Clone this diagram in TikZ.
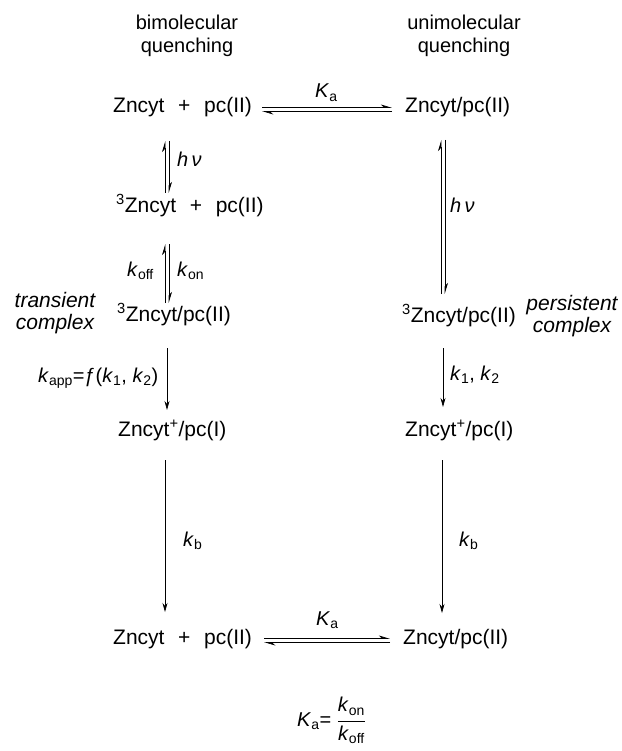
\documentclass[tikz,border=0pt]{standalone}
\usepackage{fontspec}
\setmainfont{Liberation Sans}
\usetikzlibrary{arrows.meta,calc}

\begin{document}
\begin{tikzpicture}[x=1pt, y=-1pt,
    species/.style={anchor=base west, inner sep=0pt, font=\fontsize{21}{24}\selectfont},
    lbl/.style={anchor=base west, inner sep=0pt, font=\fontsize{20}{24}\selectfont},
    head/.style={align=center, inner sep=0pt, font=\fontsize{20}{23}\selectfont},
    note/.style={align=center, inner sep=0pt, font=\fontsize{21}{22}\selectfont\itshape},
    arrow/.style={-{Stealth[length=9pt,width=5pt]}, line width=0.7pt},
    harp/.style={-{Stealth[harpoon,length=10pt,width=6pt]}, line width=0.7pt}
  ]
  \useasboundingbox (0,0) rectangle (621,751);
  % Columns
  \coordinate (colL) at (167,0);
  \coordinate (colR) at (443,0);
  % Headings
  \node[head] (headL) at (187,36) {bimolecular\\quenching};
  \node[head] (headR) at (464,36) {unimolecular\\quenching};
  % Species, left
  \node[species] (r1L) at (113,113) {Zncyt\hspace{0.65em}+\hspace{0.65em}pc(II)};
  \node[species] (r2L) at (116,212) {\textsuperscript{3}Zncyt\hspace{0.65em}+\hspace{0.65em}pc(II)};
  \node[species] (r3L) at (117,321) {\textsuperscript{3}Zncyt/pc(II)};
  \node[species] (r4L) at (118,436) {Zncyt\textsuperscript{+}/pc(I)};
  \node[species] (r5L) at (113,644) {Zncyt\hspace{0.65em}+\hspace{0.65em}pc(II)};
  % Species, right
  \node[species] (r1R) at (405,113) {Zncyt/pc(II)};
  \node[species] (r3R) at (402,322) {\textsuperscript{3}Zncyt/pc(II)};
  \node[species] (r4R) at (405,436) {Zncyt\textsuperscript{+}/pc(I)};
  \node[species] (r5R) at (403,644) {Zncyt/pc(II)};
  % Complexes
  \node[note] (trans) at (55,313) {transient\\complex};
  \node[note] (pers) at (572,316) {persistent\\complex};
  % Labels
  \node[lbl] (kaTop) at (315,98) {\textit{K}\textsubscript{a}};
  \node[lbl] (hvL) at (177,167) {\textit{h\,ν}};
  \node[lbl] (hvR) at (450,213) {\textit{h\,ν}};
  \node[lbl] (koff) at (127,276) {\textit{k}\textsubscript{off}};
  \node[lbl] (kon) at (177,276) {\textit{k}\textsubscript{on}};
  \node[lbl] (kapp) at (38,382) {\textit{k}\textsubscript{app}=ƒ(\textit{k}\textsubscript{1}, \textit{k}\textsubscript{2})};
  \node[lbl] (k12) at (450,380) {\textit{k}\textsubscript{1}, \textit{k}\textsubscript{2}};
  \node[lbl] (kbL) at (183,546) {\textit{k}\textsubscript{b}};
  \node[lbl] (kbR) at (459,546) {\textit{k}\textsubscript{b}};
  \node[lbl] (kaBot) at (316,625) {\textit{K}\textsubscript{a}};
  \node[lbl] (kaEq) at (297,726) {\textit{K}\textsubscript{a}= $\displaystyle\frac{\mbox{\textit{k}\textsubscript{on}}}{\mbox{\textit{k}\textsubscript{off}}}$};
  % Equilibria
  \draw[harp] ($(r1L.base east)+(10,-5.5)$) -- ($(r1R.base west)+(-13,-5.5)$);
  \draw[harp] ($(r1R.base west)+(-13,-1.5)$) -- ($(r1L.base east)+(10,-1.5)$);
  \draw[harp] ($(r5L.base east)+(12,-5.5)$) -- ($(r5R.base west)+(-13,-5.5)$);
  \draw[harp] ($(r5R.base west)+(-13,-1.5)$) -- ($(r5L.base east)+(12,-1.5)$);
  \draw[harp] ($(r2L.base -| colL)+(-2,-19)$) -- ($(r1L.base -| colL)+(-2,28)$);
  \draw[harp] ($(r1L.base -| colL)+(2,28)$) -- ($(r2L.base -| colL)+(2,-19)$);
  \draw[harp] ($(r3L.base -| colL)+(-2,-18)$) -- ($(r2L.base -| colL)+(-2,32)$);
  \draw[harp] ($(r2L.base -| colL)+(2,32)$) -- ($(r3L.base -| colL)+(2,-18)$);
  \draw[harp] ($(r3R.base -| colR)+(-2,-28)$) -- ($(r1R.base -| colR)+(-2,27)$);
  \draw[harp] ($(r1R.base -| colR)+(2,27)$) -- ($(r3R.base -| colR)+(2,-28)$);
  % Reactions
  \draw[arrow] ($(r3L.base -| colL)+(0,27)$) -- ($(r4L.base -| colL)+(0,-26)$);
  \draw[arrow] ($(r4L.base -| colL)+(-2,24)$) -- ($(r5L.base -| colL)+(-2,-32)$);
  \draw[arrow] ($(r3R.base -| colR)+(0,26)$) -- ($(r4R.base -| colR)+(0,-29)$);
  \draw[arrow] ($(r4R.base -| colR)+(-1,24)$) -- ($(r5R.base -| colR)+(-1,-31)$);
\end{tikzpicture}
\end{document}
